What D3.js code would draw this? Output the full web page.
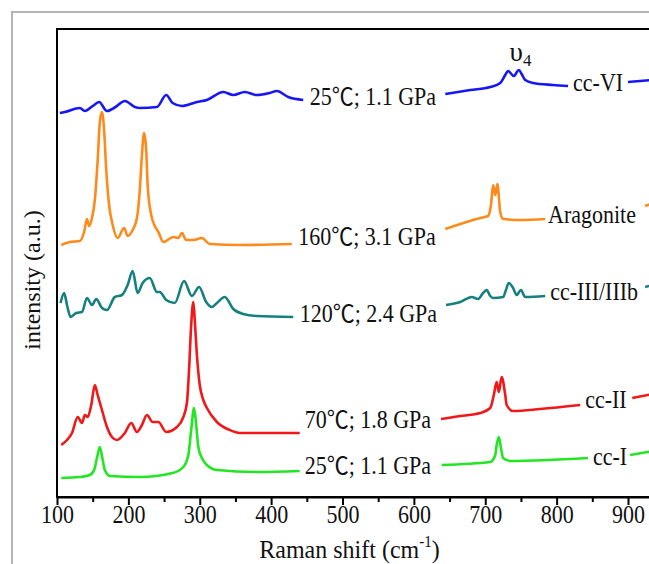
<!DOCTYPE html>
<html>
<head>
<meta charset="utf-8">
<script src="https://cdn.jsdelivr.net/npm/d3@7"></script>
<style>
  body { margin: 0; background: #fff; }
  svg { display: block; }
  text { font-family: "Liberation Serif", "Times New Roman", "Noto Sans CJK SC", serif; fill: #111; }
</style>
</head>
<body>
<svg id="chart" width="649" height="564"></svg>
<script>
// Raman spectra, intensity offsets in a.u. ; each spectrum is drawn in 3 pieces
const ccVI = [
  [[104,384],[111,385],[132,389],[139,386],[150,391],[159,395],[170,386],[182,390],[195,396],[209,390],[216,389],[240,390],[253,402],[262,394],[275,391],[296,395],[310,397],[333,405],[347,402],[363,405],[380,402],[398,404],[408,406],[424,400],[445,397]],
  [[644,403],[679,407],[707,410],[721,414],[728,422],[732,426],[740,421],[747,427],[751,423],[756,417],[767,414],[795,412],[816,411]],
  [[900,415],[935,417]]
];
const aragonite = [
  [[106,252],[118,255],[132,256],[138,265],[142,278],[145,271],[149,279],[153,297],[157,337],[160,375],[163,385],[166,367],[169,327],[173,292],[178,272],[185,259],[194,269],[199,261],[206,267],[212,279],[216,307],[219,342],[222,364],[225,347],[227,312],[232,282],[237,271],[242,265],[249,255],[263,260],[270,259],[275,264],[281,257],[291,257],[303,259],[314,253],[356,252],[429,253]],
  [[644,268],[693,279],[704,281],[708,292],[711,312],[714,302],[717,313],[721,285],[725,278],[749,277],[784,278]],
  [[924,291],[935,294]]
];
const ccIII = [
  [[105,194],[110,204],[114,192],[119,180],[127,184],[135,185],[142,199],[149,192],[155,198],[163,189],[170,187],[181,200],[191,202],[199,212],[206,226],[213,204],[220,214],[230,219],[240,205],[244,205],[253,197],[265,194],[278,216],[289,201],[299,210],[309,195],[317,190],[324,194],[335,200],[347,188],[361,183],[380,181],[431,180]],
  [[645,192],[665,195],[681,200],[690,198],[697,204],[702,207],[707,201],[711,199],[725,200],[729,207],[733,214],[739,209],[744,202],[750,207],[756,200],[784,201]],
  [[924,210],[935,212]]
];
const ccII = [
  [[106,52],[114,57],[121,64],[129,80],[135,74],[139,82],[143,80],[148,92],[153,112],[157,102],[163,87],[170,70],[177,60],[184,57],[195,64],[204,74],[212,65],[219,72],[226,82],[234,75],[242,75],[253,65],[268,70],[277,80],[282,94],[285,127],[288,172],[291,195],[293,177],[296,142],[300,112],[305,97],[310,89],[324,75],[342,67],[356,64],[440,64]],
  [[638,78],[665,81],[693,84],[707,89],[712,102],[716,115],[719,105],[723,120],[728,102],[730,92],[739,86],[777,88],[833,92]],
  [[906,99],[935,103]]
];
const ccI = [
  [[106,19],[132,20],[146,22],[152,27],[156,39],[160,50],[163,41],[167,27],[174,21],[216,20],[262,24],[277,30],[284,42],[288,67],[292,89],[295,72],[298,50],[303,39],[310,32],[324,27],[380,25],[440,26]],
  [[639,32],[707,35],[714,42],[716,52],[719,60],[722,49],[725,39],[735,36],[844,39]],
  [[903,42],[935,46]]
];

const spectra = [ccVI, aragonite, ccIII, ccII, ccI];
const colors = ["#1717f2", "#ff8a1c", "#168080", "#f01818", "#22e622"];

// labels: [cm-1, a.u., text]
const conditionLabels = [
  [454, 400, "25℃; 1.1 GPa"],
  [438, 260, "160℃; 3.1 GPa"],
  [440, 183, "120℃; 2.4 GPa"],
  [447, 77, "70℃; 1.8 GPa"],
  [447, 31, "25℃; 1.1 GPa"]
];
const phaseLabels = [
  [823, 414, "cc-VI"],
  [788, 282, "Aragonite"],
  [791, 205, "cc-III/IIIb"],
  [840, 97, "cc-II"],
  [851, 40, "cc-I"]
];
const majorTicks = [100, 200, 300, 400, 500, 600, 700, 800, 900];
const minorTicks = [150, 250, 350, 450, 550, 650, 750, 850, 950];

const svg = d3.select("#chart");
const W = 649, H = 564;
const margin = { left: 57, top: 29, bottom: 497 };

const x = d3.scaleLinear().domain([100, 950]).range([margin.left, 57 + 850 * 0.71375]);
const y = d3.scaleLinear().domain([0, 468]).range([margin.bottom, margin.top]);

// outer grey border of the cropped figure
svg.append("path")
  .attr("d", `M12,${H} V12 H${W}`)
  .attr("fill", "none")
  .attr("stroke", "#b4b4b4")
  .attr("stroke-width", 2);

// plot frame
svg.append("rect")
  .attr("x", x(100)).attr("y", margin.top)
  .attr("width", x(950) - x(100)).attr("height", margin.bottom - margin.top)
  .attr("fill", "none")
  .attr("stroke", "#000")
  .attr("stroke-width", 2);

// bottom axis
const axisG = svg.append("g").attr("transform", `translate(0,${margin.bottom})`);
axisG.call(d3.axisBottom(x).tickValues(majorTicks).tickSize(8).tickSizeOuter(0).tickFormat(d3.format("d")));
axisG.select(".domain").attr("stroke-width", 2);
axisG.selectAll(".tick line").attr("stroke-width", 2);
axisG.selectAll(".tick text")
  .attr("y", 0)
  .attr("dy", null)
  .attr("font-size", 22)
  .attr("transform", "translate(0,26) scale(1,1.12)")
  .style("font-family", "'Liberation Serif', serif")
  .attr("fill", "#111");

const minorG = svg.append("g").attr("transform", `translate(0,${margin.bottom})`);
minorG.call(d3.axisBottom(x).tickValues(minorTicks).tickSize(5).tickSizeOuter(0).tickFormat(""));
minorG.select(".domain").remove();
minorG.selectAll(".tick line").attr("stroke-width", 2);

// spectra
const line = d3.line()
  .x(d => x(d[0]))
  .y(d => y(d[1]))
  .curve(d3.curveMonotoneX);

spectra.forEach((segs, i) => {
  svg.append("g").selectAll("path")
    .data(segs)
    .enter()
    .append("path")
    .attr("d", line)
    .attr("fill", "none")
    .attr("stroke", colors[i])
    .attr("stroke-width", 2.6)
    .attr("stroke-linejoin", "round");
});

// text labels
let addLabel = (d, size) => {
  svg.append("text")
    .attr("transform", `translate(${x(d[0])},${y(d[1])}) scale(1,1.1)`)
    .attr("dominant-baseline", "central")
    .attr("font-size", size)
    .text(d[2]);
};
conditionLabels.forEach(d => addLabel(d, 22));
phaseLabels.forEach(d => addLabel(d, 22));

// v4 annotation
const nu = svg.append("text")
  .attr("transform", `translate(${x(734)},${y(436)})`)
  .attr("font-size", 27);
nu.append("tspan").text("υ");
nu.append("tspan").attr("font-size", 17).attr("dy", 5).text("4");

// axis titles
const xt = svg.append("text")
  .attr("transform", `translate(${(x(100) + 642) / 2},${558}) scale(1,1.08)`)
  .attr("text-anchor", "middle")
  .attr("font-size", 24);
xt.append("tspan").text("Raman shift (cm");
xt.append("tspan").attr("font-size", 15).attr("dy", -10).text("-1");
xt.append("tspan").attr("dy", 10).text(")");

svg.append("text")
  .attr("transform", `translate(40,${280}) rotate(-90)`)
  .attr("text-anchor", "middle")
  .attr("font-size", 24)
  .text("intensity (a.u.)");
</script>
</body>
</html>
